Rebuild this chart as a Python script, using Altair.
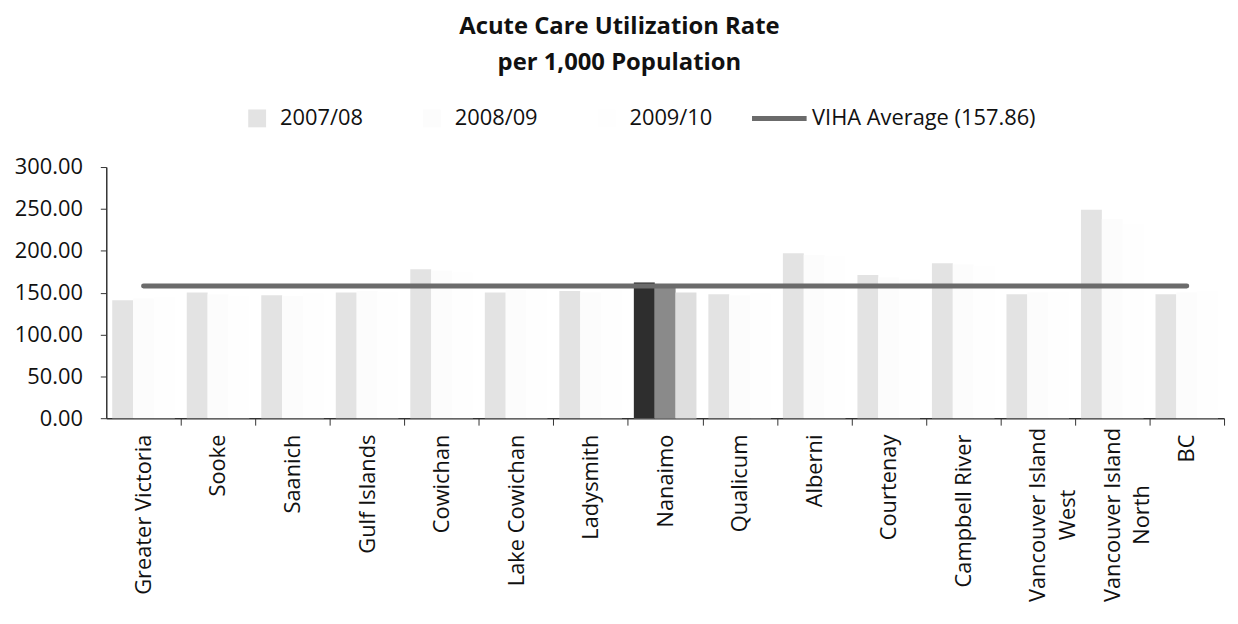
import altair as alt
import pandas as pd

# ---- data -------------------------------------------------------------
regions = ["Greater Victoria", "Sooke", "Saanich", "Gulf Islands", "Cowichan",
           "Lake Cowichan", "Ladysmith", "Nanaimo", "Qualicum", "Alberni",
           "Courtenay", "Campbell River", "Vancouver Island\nWest",
           "Vancouver Island\nNorth", "BC"]
series = ["2007/08", "2008/09", "2009/10"]
r_0708 = [141, 150, 147, 150, 178, 150, 152, 162, 148, 197, 171, 185, 148, 249, 148]
r_0809 = [143, 148, 146, 152, 176, 153, 150, 160, 147, 195, 168, 184, 150, 238, 150]
r_0910 = [145, 146, 149, 151, 174, 155, 153, 150, 149, 193, 166, 182, 151, 232, 152]
viha_avg = 157.86
avg_label = "VIHA Average (157.86)"
y_ticks = [0, 50, 100, 150, 200, 250, 300]
highlight = "Nanaimo"

# ---- styles -----------------------------------------------------------
series_colors = ["#e3e3e3", "#fcfcfc", "#fefefe"]
highlight_colors = ["#2e2e2e", "#8a8a8a", "#dedede"]
FONT = "Open Sans"

rows = []
for vals, s in zip([r_0708, r_0809, r_0910], series):
    for r, v in zip(regions, vals):
        rows.append({"region": r, "series": s, "value": v})
bars_df = pd.DataFrame(rows)

hl_rows = []
for s, c in zip(series, highlight_colors):
    v = bars_df[(bars_df.region == highlight) & (bars_df.series == s)].value.iloc[0]
    hl_rows.append({"region": highlight, "series": s, "value": v, "shade": c})
hl_df = pd.DataFrame(hl_rows)

line_df = pd.DataFrame({"region": regions, "avg": [viha_avg] * len(regions),
                        "label": [avg_label] * len(regions)})

x_scale = alt.Scale(domain=regions, paddingInner=0.16, paddingOuter=0.08)
y_scale = alt.Scale(domain=[0, 300], nice=False)

x_axis = alt.Axis(
    title=None, labelAngle=270, labelFont=FONT, labelFontSize=22,
    labelColor="#111", labelLineHeight=30,
    labelExpr="split(datum.label, '\\n')",
    labelAlign={"condition": {"test": "indexof(datum.value, '\\n') >= 0", "value": "center"},
                "value": "right"},
    labelPadding={"condition": {"test": "indexof(datum.value, '\\n') >= 0", "value": 90},
                  "value": 9},
    tickOffset=37.5, labelOffset=-37.5, tickSize=7, tickColor="#333",
    domainColor="#333", domainWidth=1.5, grid=False, labelLimit=400,
)
y_axis = alt.Axis(
    title=None, values=y_ticks, format=".2f", labelFont=FONT, labelFontSize=22,
    labelColor="#111", tickSize=6, labelPadding=18, tickColor="#333",
    domainColor="#333", domainWidth=1.5, grid=False,
)

bars = alt.Chart(bars_df).mark_bar().encode(
    x=alt.X("region:N", scale=x_scale, sort=regions, axis=x_axis),
    xOffset=alt.XOffset("series:N", sort=series, scale=alt.Scale(domain=series)),
    y=alt.Y("value:Q", scale=y_scale, axis=y_axis),
    fill=alt.Fill("series:N", scale=alt.Scale(domain=series, range=series_colors),
                  legend=alt.Legend(orient="none", legendX=141, legendY=-60,
                                    direction="horizontal", title=None,
                                    symbolType="square", symbolSize=324,
                                    symbolStrokeWidth=0, labelFont=FONT,
                                    labelFontSize=22, labelColor="#111",
                                    labelOffset=12, columnPadding=58, padding=0,
                                    labelLimit=400)),
)

hl = alt.Chart(hl_df).mark_bar().encode(
    x=alt.X("region:N", scale=x_scale, sort=regions),
    xOffset=alt.XOffset("series:N", sort=series, scale=alt.Scale(domain=series)),
    y=alt.Y("value:Q", scale=y_scale),
    color=alt.Color("shade:N", scale=None),
)

line = alt.Chart(line_df).mark_line(strokeWidth=5, strokeCap="round").encode(
    x=alt.X("region:N", scale=x_scale, sort=regions),
    y=alt.Y("avg:Q", scale=y_scale),
    stroke=alt.Stroke("label:N", scale=alt.Scale(domain=[avg_label], range=["#6b6b6b"]),
                      legend=alt.Legend(orient="none", legendX=648, legendY=-79,
                                        title=None, symbolType="stroke",
                                        symbolSize=3025, symbolStrokeWidth=5,
                                        labelFont=FONT, labelFontSize=22,
                                        labelColor="#111", labelOffset=3, padding=0,
                                        labelLimit=400)),
)

chart = alt.layer(bars, hl, line).resolve_scale(color="independent").properties(
    width=1126, height=253,
    padding={"left": 6, "top": 5, "right": 5, "bottom": 5},
    title=alt.TitleParams(
        text=["Acute Care Utilization Rate", "per 1,000 Population"],
        font=FONT, fontSize=24, fontWeight="bold", lineHeight=36,
        color="#111", anchor="middle", frame="bounds", offset=14,
    ),
).configure_view(stroke=None)

chart.save("out.html", embed_options={"renderer": "svg", "actions": False})
